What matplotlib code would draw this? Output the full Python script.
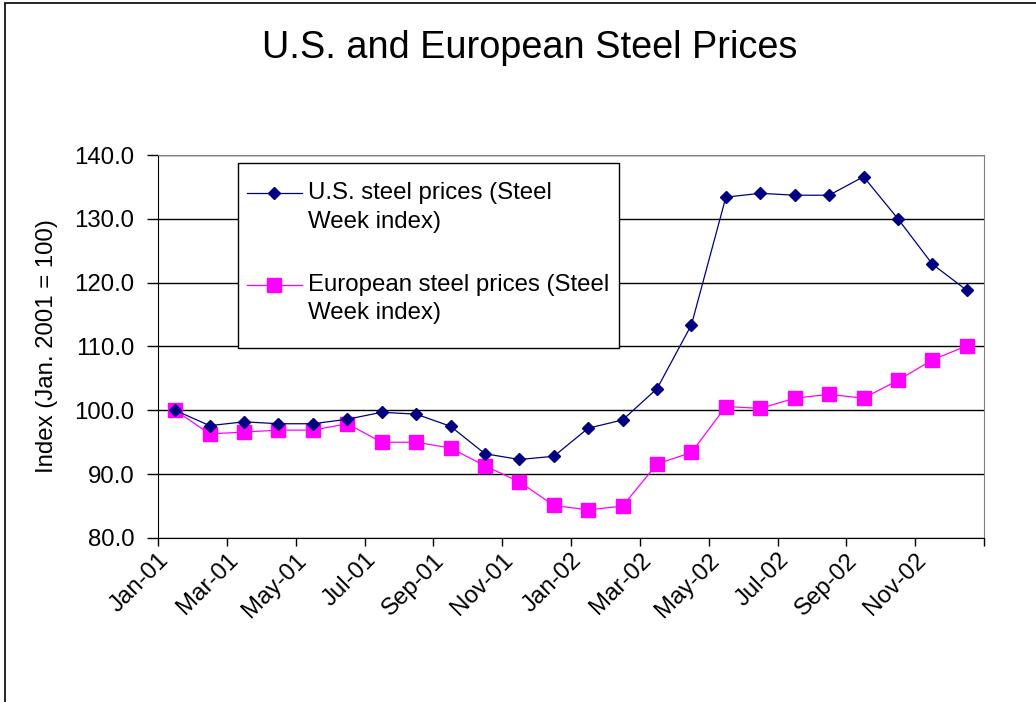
import matplotlib
matplotlib.use('Agg')
import matplotlib.pyplot as plt
from matplotlib.lines import Line2D
from matplotlib.patches import Rectangle

plt.rcParams['font.family'] = ['Liberation Sans', 'DejaVu Sans']

# monthly categories, Jan 2001 - Dec 2002
months = ['Jan-01', 'Feb-01', 'Mar-01', 'Apr-01', 'May-01', 'Jun-01',
          'Jul-01', 'Aug-01', 'Sep-01', 'Oct-01', 'Nov-01', 'Dec-01',
          'Jan-02', 'Feb-02', 'Mar-02', 'Apr-02', 'May-02', 'Jun-02',
          'Jul-02', 'Aug-02', 'Sep-02', 'Oct-02', 'Nov-02', 'Dec-02']

us_steel = [100.0, 97.6, 98.2, 97.9, 97.9, 98.6, 99.7, 99.4, 97.5, 93.2, 92.3, 92.8,
            97.2, 98.5, 103.4, 113.4, 133.4, 134.0, 133.7, 133.7, 136.6, 130.0, 122.9, 118.8]
eu_steel = [100.0, 96.3, 96.6, 96.9, 96.9, 97.9, 95.0, 95.0, 94.1, 91.3, 88.8, 85.1,
            84.4, 85.0, 91.6, 93.4, 100.6, 100.3, 101.9, 102.5, 101.9, 104.7, 107.9, 110.1]

us_label = ['U.S. steel prices (Steel', 'Week index)']
eu_label = ['European steel prices (Steel', 'Week index)']

W, H = 1036, 702
FS = 17.3


def px(x, y):
    # pixel position -> figure fraction
    return x / W, 1 - y / H


fig = plt.figure(figsize=(W / 100, H / 100), dpi=100)
ax = fig.add_axes([158 / W, 1 - 538 / H, 826 / W, 383 / H])

x = list(range(len(months)))
ax.plot(x, us_steel, color='#000080', lw=0.9, marker='D', ms=5.8, zorder=4)
ax.plot(x, eu_steel, color='#FF00FF', lw=0.9, marker='s', ms=9.5, zorder=3)

ax.set_xlim(-0.5, len(months) - 0.5)
ax.set_ylim(80, 140)
ax.set_yticks(range(80, 141, 10))
ax.set_yticklabels(['%.1f' % v for v in range(80, 141, 10)])
ax.set_xticks([i - 0.5 for i in range(0, len(months) + 1, 2)])
ax.set_xticklabels(months[::2] + [''], rotation=45, ha='right', va='top',
                   rotation_mode='anchor')

ax.grid(axis='y', color='black', lw=1)
ax.set_axisbelow(True)
ax.tick_params(axis='y', direction='out', length=8, width=1, labelsize=FS, pad=9)
ax.tick_params(axis='x', direction='out', length=6, width=1, labelsize=FS, pad=2)
for s in ['top', 'right']:
    ax.spines[s].set_color('#808080')
for s in ['left', 'bottom']:
    ax.spines[s].set_color('black')

ax.set_ylabel('Index (Jan. 2001 = 100)', fontsize=FS)
ax.yaxis.set_label_coords((58 - 158) / 826, 0.5)

fig.text(*px(530, 48), 'U.S. and European Steel Prices', fontsize=27.3,
         ha='center', va='center')

# legend box
x0, y0 = px(238, 348)
x1, y1 = px(619, 163)
fig.add_artist(Rectangle((x0, y0), x1 - x0, y1 - y0, transform=fig.transFigure,
                         facecolor='white', edgecolor='black', lw=1, zorder=5))
for ys, lab, col, mk, ms in [((193, 222), us_label, '#000080', 'D', 5.8),
                             ((285, 313), eu_label, '#FF00FF', 's', 9.5)]:
    lx0, ly = px(247, ys[0])
    lx1, _ = px(302, ys[0])
    mx, _ = px(274, ys[0])
    fig.add_artist(Line2D([lx0, lx1], [ly, ly], color=col, lw=0.9,
                          transform=fig.transFigure, zorder=6))
    fig.add_artist(Line2D([mx], [ly], color=col, marker=mk, ms=ms,
                          transform=fig.transFigure, zorder=7))
    for yy, t in zip(ys, lab):
        fig.text(*px(308, yy), t, fontsize=FS, ha='left', va='center', zorder=7)

# outer chart border (left and top edges visible)
bx, by = px(5, 760)
fig.add_artist(Rectangle((bx, by), 1.2, 1 - 3 / H - by, transform=fig.transFigure,
                         facecolor='none', edgecolor='black', lw=1.2, zorder=8))

fig.savefig('out.png', dpi=100, facecolor='white')
